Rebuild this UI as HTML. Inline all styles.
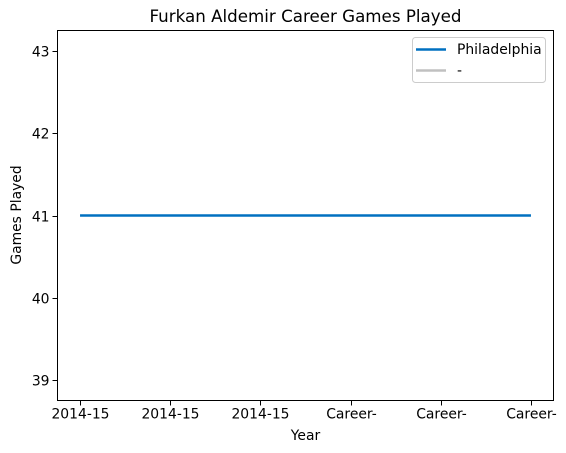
<!DOCTYPE html>
<html><head><meta charset="utf-8"><style>body{margin:0;background:#fff}svg{display:block;font-family:"DejaVu Sans","Liberation Sans",sans-serif}</style></head>
<body>
<svg id="chart" width="566" height="453" viewBox="0 0 566 453" xmlns="http://www.w3.org/2000/svg">
<text x="305.5" y="22" text-anchor="middle" font-size="16.7">Furkan Aldemir Career Games Played</text>
<g id="plot"></g>
<text x="305.5" y="440" text-anchor="middle" font-size="13.9">Year</text>
<text transform="translate(21,215) rotate(-90)" text-anchor="middle" font-size="13.9">Games Played</text>
<g>
<rect x="412.5" y="37.5" width="133" height="45" rx="3" fill="#fff" fill-opacity="0.8" stroke="#ccc"/>
<line x1="416" y1="49.5" x2="446" y2="49.5" stroke="#0070c0" stroke-width="2.6"/>
<text x="457" y="54" font-size="13.9">Philadelphia</text>
<line x1="416" y1="70.5" x2="446" y2="70.5" stroke="#c0c0c0" stroke-width="2.6"/>
<text x="457" y="75" font-size="13.9">-</text>
</g>
</svg>
<script>
const categories = ["2014-15","2014-15","2014-15","Career-","Career-","Career-"];
const games = [41,41,41,41,41,41];
const yTicks = [39,40,41,42,43];
const L=57.5,R=553.5,T=30.5,B=400.5, xmin=-0.25,xmax=5.25,ymin=38.75,ymax=43.25;
const xs=i=>L+(i-xmin)/(xmax-xmin)*(R-L);
const ys=v=>B-(v-ymin)/(ymax-ymin)*(B-T);
const g=document.getElementById('plot');
const NS="http://www.w3.org/2000/svg";
function mk(t,a){const e=document.createElementNS(NS,t);for(const k in a)e.setAttribute(k,a[k]);g.appendChild(e);return e;}
categories.forEach((c,i)=>{
  const x=Math.round(xs(i))+0.5;
  const tk=mk('line',{x1:x,y1:B,x2:x,y2:B+5,stroke:'#000','stroke-width':1});
  
  
  const t=mk('text',{x:x,y:B+18,'text-anchor':'middle','font-size':13.9});
  
  
  t.textContent=c;
});
yTicks.forEach(v=>{
  const y=Math.round(ys(v))+0.5;
  const tk=mk('line',{x1:L-5,y1:y,x2:L,y2:y,stroke:'#000','stroke-width':1});
  
  
  const t=mk('text',{x:L-8,y:y+5,'text-anchor':'end','font-size':13.9});
  
  
  t.textContent=v;
});
const p=mk('polyline',{points:games.map((v,i)=>xs(i)+','+ys(v)).join(' '),fill:'none',stroke:'#0070c0','stroke-width':2.6});


const fr=mk('rect',{x:L,y:T,width:R-L,height:B-T,fill:'none',stroke:'#000','stroke-width':1});


</script>
</body></html>
